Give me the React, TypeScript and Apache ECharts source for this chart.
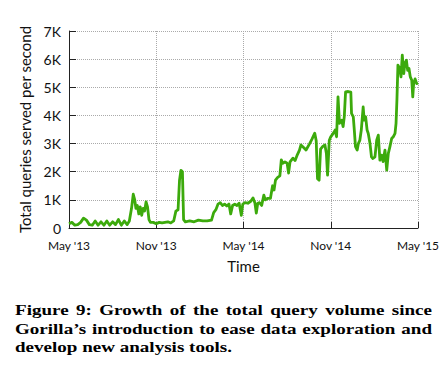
import React, { useEffect, useRef } from 'react';
import * as echarts from 'echarts';

// months since May 2013
const MONTHS = [
  0, 0.2, 0.4, 0.6, 0.8, 1.0, 1.2, 1.4, 1.6, 1.8, 2.0, 2.2, 2.4, 2.6, 2.8, 3.0, 3.2, 3.4, 3.6, 3.8, 4.0, 4.15,
  4.3, 4.42, 4.52, 4.6, 4.7, 4.8, 4.9, 5.0, 5.1, 5.2, 5.3, 5.4, 5.5, 5.6, 5.8, 6.0, 6.2, 6.4, 6.6, 6.8, 7.0, 7.2,
  7.35, 7.5, 7.6, 7.7, 7.8, 7.88, 8.0, 8.3, 8.6, 8.9, 9.2, 9.5, 9.8, 9.95, 10.1, 10.25, 10.4, 10.55, 10.7, 10.85,
  11.0, 11.12, 11.25, 11.4, 11.55, 11.7, 11.85, 11.95, 12.1, 12.3, 12.5, 12.65, 12.78, 12.88, 12.98, 13.1, 13.25,
  13.4, 13.5, 13.65, 13.85, 14.0, 14.1, 14.2, 14.35, 14.5, 14.6, 14.7, 14.85, 15.0, 15.1, 15.2, 15.4, 15.55, 15.7,
  15.85, 15.95, 16.15, 16.3, 16.55, 16.7, 16.9, 17.0, 17.09, 17.2, 17.3, 17.45, 17.6, 17.7, 17.78, 17.9, 18.0,
  18.17, 18.3, 18.4, 18.5, 18.6, 18.75, 18.85, 18.93, 19.02, 19.2, 19.38, 19.43, 19.55, 19.62, 19.7, 19.82, 19.9,
  20.0, 20.1, 20.23, 20.3, 20.4, 20.5, 20.58, 20.7, 20.8, 20.9, 21.04, 21.16, 21.27, 21.38, 21.5, 21.6, 21.73,
  21.85, 21.96, 22.07, 22.19, 22.3, 22.42, 22.49, 22.55, 22.62, 22.74, 22.83, 22.92, 23.02, 23.1, 23.2, 23.29,
  23.38, 23.47, 23.57, 23.64, 23.7, 23.8, 23.91, 24.0,
];

// total queries served per second
const QUERIES = [
  150, 200, 100, 120, 200, 350, 280, 120, 100, 250, 100, 220, 100, 250, 100, 220, 120, 300, 100, 250, 120, 250,
  700, 1200, 1000, 700, 800, 500, 750, 450, 700, 600, 930, 750, 300, 200, 200, 150, 200, 180, 200, 220, 180, 250,
  600, 650, 1700, 2050, 2000, 300, 220, 250, 220, 280, 250, 250, 280, 550, 650, 850, 900, 800, 850, 780,
  850, 500, 800, 850, 800, 880, 450, 850, 900, 880, 950, 1070, 900, 530, 880, 900, 800,
  1170, 1000, 1050, 1050, 1500, 1350, 1700, 1800, 1850, 2420, 2300, 2350, 2300, 1950, 2350, 2480, 2400, 2600,
  2770, 2950, 2850, 2770, 3000, 3150, 3370, 3100, 1750, 1700, 2800, 2900, 2950, 2650, 1880, 3120, 3240,
  3360, 3480, 3240, 4660, 3720, 3830, 3600, 3950, 4840, 4850, 4830, 4070, 3950, 3480, 2890, 2770, 3000,
  3120, 3480, 4300, 3830, 3950, 3480, 3360, 3000, 2530, 2470, 2530, 3120, 3300, 2410, 2590, 2360, 2770,
  2060, 2650, 2890, 3180, 3240, 3360, 3720, 4540, 5790, 5670, 5370, 6140, 5490, 5850, 5960, 5600,
  5670, 5370, 5250, 4660, 5130, 5300, 5130, 5160,
];

const X_TICK_LABELS = ["May '13", "Nov '13", "May '14", "Nov '14", "May '15"];
const Y_TICK_LABELS = ['0', '1K', '2K', '3K', '4K', '5K', '6K', '7K'];

const X_AXIS_NAME = 'Time';
const Y_AXIS_NAME = 'Total queries served per second';

const CAPTION_LINES = [
  'Figure 9: Growth of the total query volume since',
  'Gorilla\u2019s introduction to ease data exploration and',
  'develop new analysis tools.',
];

const CAPTION_FONT = 'bold 15.5px "Liberation Serif"';

function buildCaption(): any[] {
  const canvas = document.createElement('canvas');
  const ctx = canvas.getContext('2d')!;
  ctx.font = CAPTION_FONT;
  const left = 15;
  const right = 432;
  const lastLineRight = 232;
  const ys = [310, 329, 347];
  const last = CAPTION_LINES[CAPTION_LINES.length - 1];
  const S = (lastLineRight - left) / ctx.measureText(last).width;
  const els: any[] = [];
  CAPTION_LINES.forEach((line, li) => {
    const justify = li < CAPTION_LINES.length - 1;
    if (!justify) {
      els.push({
        type: 'text',
        x: left,
        y: ys[li],
        scaleX: S,
        style: {
          text: line,
          font: CAPTION_FONT,
          fill: '#000',
          textAlign: 'left',
          textVerticalAlign: 'middle',
        },
      });
      return;
    }
    const words = line.split(' ');
    const widths = words.map((w) => ctx.measureText(w).width * S);
    const total = widths.reduce((a, b) => a + b, 0);
    const gap = Math.max(2, (right - left - total) / (words.length - 1));
    let x = left;
    words.forEach((w, wi) => {
      els.push({
        type: 'text',
        x,
        y: ys[li],
        scaleX: S,
        style: {
          text: w,
          font: CAPTION_FONT,
          fill: '#000',
          textAlign: 'left',
          textVerticalAlign: 'middle',
        },
      });
      x += widths[wi] + gap;
    });
  });
  return els;
}

export default function App() {
  const ref = useRef<HTMLDivElement>(null);
  useEffect(() => {
    if (!ref.current) return;
    const chart = echarts.init(ref.current, undefined, { renderer: 'svg' });
    const data = MONTHS.map((m, i) => [m, QUERIES[i]]);
    chart.setOption({
      animation: false,
      backgroundColor: '#fff',
      grid: { left: 69, right: 30, top: 31, bottom: 150 },
      xAxis: {
        type: 'value',
        min: 0,
        max: 24,
        interval: 6,
        name: X_AXIS_NAME,
        nameLocation: 'middle',
        nameGap: 30,
        nameTextStyle: { fontFamily: 'Lato', fontSize: 15, color: '#111' },
        axisLine: { show: true, lineStyle: { color: '#222', width: 1 } },
        axisTick: { show: true, inside: true, length: 6, lineStyle: { color: '#222' } },
        axisLabel: {
          formatter: (v: number) => X_TICK_LABELS[Math.round(v / 6)],
          fontFamily: 'Lato',
          fontSize: 12,
          color: '#111',
          margin: 11,
        },
        splitLine: { show: true, lineStyle: { type: 'dotted', color: '#aaa', width: 1 } },
      },
      yAxis: {
        type: 'value',
        min: 0,
        max: 7000,
        interval: 1000,
        name: Y_AXIS_NAME,
        nameLocation: 'middle',
        nameGap: 36,
        nameTextStyle: { fontFamily: 'Lato', fontSize: 15, color: '#111' },
        axisLine: { show: true, lineStyle: { color: '#222', width: 1 } },
        axisTick: { show: true, inside: true, length: 7, lineStyle: { color: '#222' } },
        axisLabel: {
          formatter: (v: number) => Y_TICK_LABELS[Math.round(v / 1000)],
          fontFamily: 'Lato',
          fontSize: 14,
          color: '#111',
          margin: 8,
        },
        splitLine: { show: true, lineStyle: { type: 'dotted', color: '#aaa', width: 1 } },
      },
      series: [
        {
          type: 'line',
          data,
          showSymbol: false,
          symbol: 'none',
          lineStyle: { color: '#3caa0c', width: 2.8, join: 'round' },
          z: 3,
        },
      ],
      graphic: buildCaption(),
    });
    return () => chart.dispose();
  }, []);
  return (
    <div
      ref={ref}
      style={{ position: 'absolute', left: 0, top: 0, width: 448, height: 378 }}
    />
  );
}
